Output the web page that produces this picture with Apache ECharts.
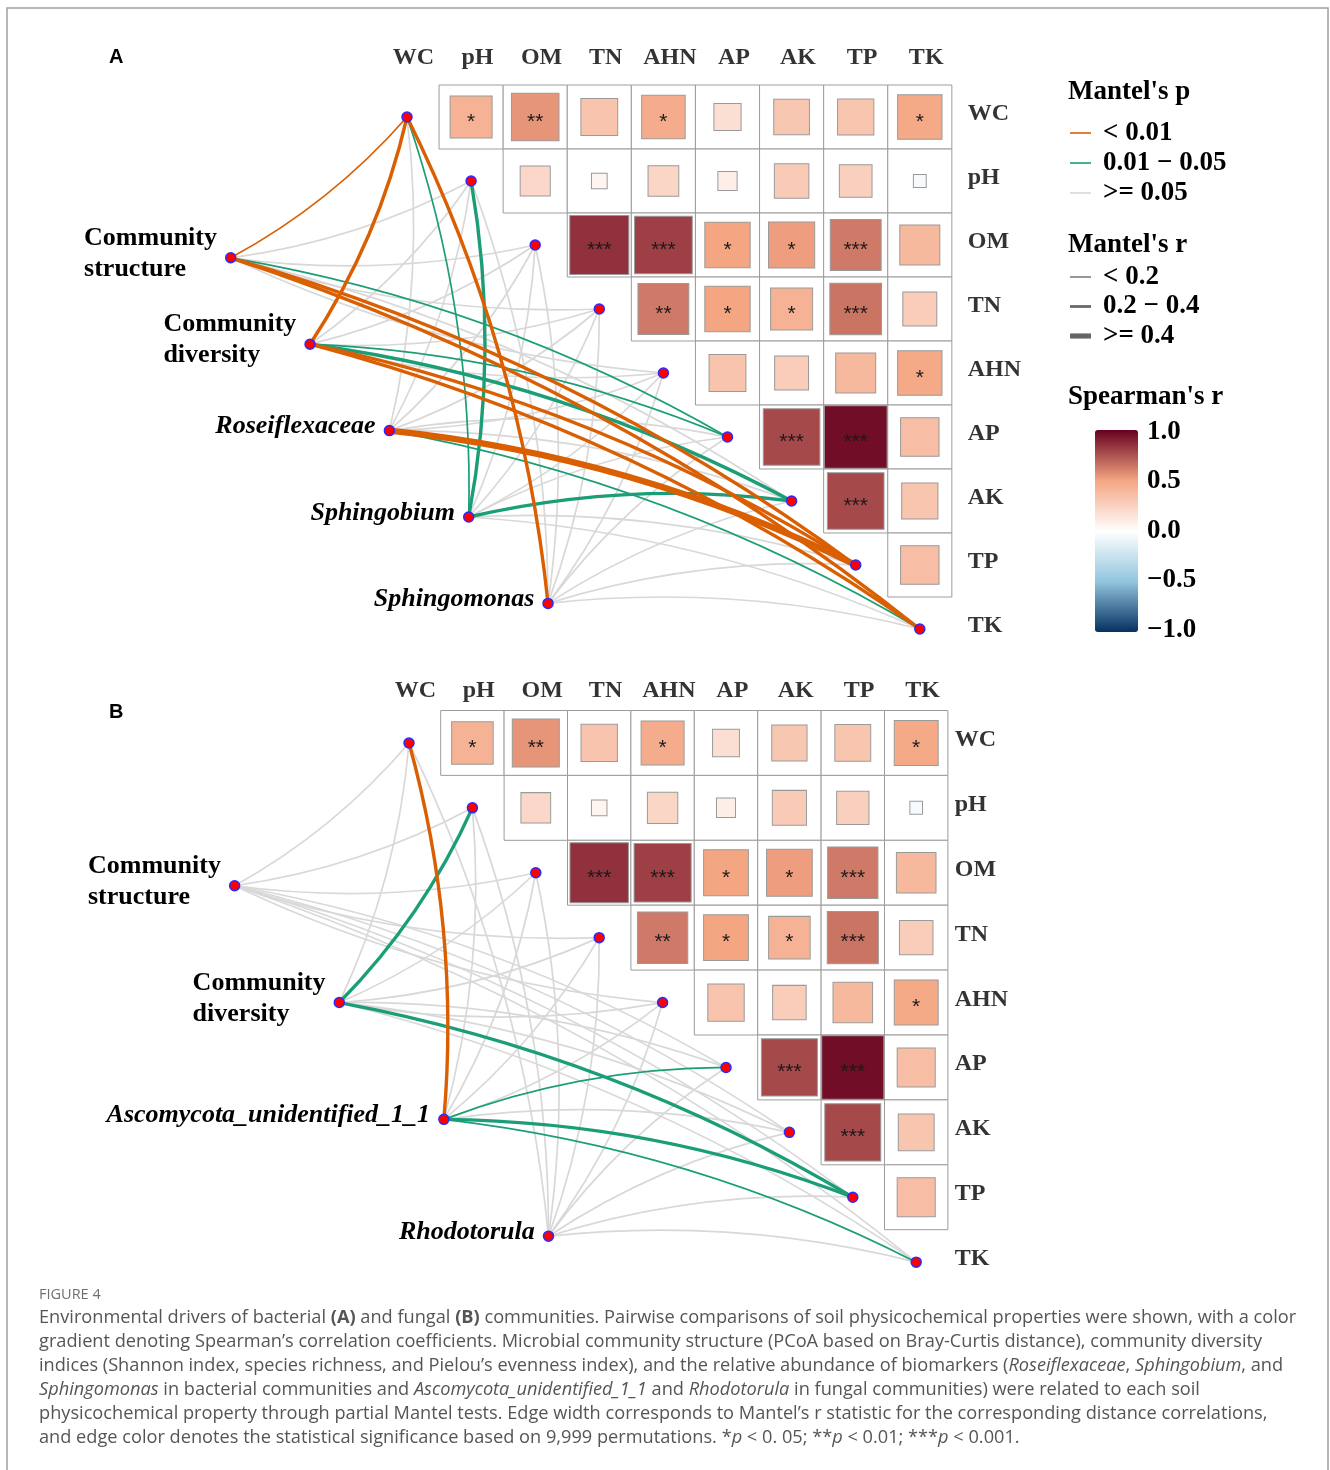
<!DOCTYPE html>
<html>
<head>
<meta charset="utf-8">
<title>Figure 4</title>
<script src="https://cdn.jsdelivr.net/npm/echarts@6/dist/echarts.min.js"></script>
<style>
html, body { margin: 0; padding: 0; background: #fff; }
#main { width: 1330px; height: 1470px; }
</style>
</head>
<body>
<div id="main"></div>
<script>
// soil properties: heatmap rows / columns and Mantel targets
var envNames = ['WC', 'pH', 'OM', 'TN', 'AHN', 'AP', 'AK', 'TP', 'TK'];

// Spearman's r, upper triangle: row i against envNames[i + 1 ..]
var spearmanR = [
  [0.43, 0.55, 0.33, 0.46, 0.18, 0.31, 0.32, 0.48],
  [0.22, 0.06, 0.23, 0.09, 0.29, 0.26, -0.04],
  [0.85, 0.81, 0.50, 0.52, 0.63, 0.39],
  [0.63, 0.50, 0.43, 0.65, 0.28],
  [0.33, 0.28, 0.39, 0.48],
  [0.78, 0.96, 0.36],
  [0.78, 0.32],
  [0.36]
];
var spearmanSig = [
  ['*', '**', '', '*', '', '', '', '*'],
  ['', '', '', '', '', '', ''],
  ['***', '***', '*', '*', '***', ''],
  ['**', '*', '*', '***', ''],
  ['', '', '', '*'],
  ['***', '***', ''],
  ['***', ''],
  ['']
];

// Mantel classes per target (WC..TK)
// p: 0 = < 0.01, 1 = 0.01 - 0.05, 2 = >= 0.05 ; r: 0 = < 0.2, 1 = 0.2 - 0.4, 2 = >= 0.4
var bactNames = ['Community structure', 'Community diversity', 'Roseiflexaceae', 'Sphingobium', 'Sphingomonas'];
var bactP = [
  [0, 2, 2, 2, 2, 1, 2, 0, 0],
  [0, 2, 2, 2, 2, 1, 1, 0, 0],
  [2, 2, 2, 2, 2, 2, 2, 0, 1],
  [1, 1, 2, 2, 2, 2, 1, 2, 2],
  [0, 2, 2, 2, 2, 2, 2, 2, 2]
];
var bactR = [
  [0, 0, 0, 0, 0, 0, 0, 1, 1],
  [1, 0, 0, 0, 0, 0, 1, 1, 1],
  [0, 0, 0, 0, 0, 0, 0, 2, 0],
  [0, 1, 0, 0, 0, 0, 1, 0, 0],
  [1, 0, 0, 0, 0, 0, 0, 0, 0]
];
var fungNames = ['Community structure', 'Community diversity', 'Ascomycota_unidentified_1_1', 'Rhodotorula'];
var fungP = [
  [2, 2, 2, 2, 2, 2, 2, 2, 2],
  [2, 1, 2, 2, 2, 2, 2, 1, 2],
  [0, 2, 2, 2, 2, 1, 2, 1, 1],
  [2, 2, 2, 2, 2, 2, 2, 2, 2]
];
var fungR = [
  [0, 0, 0, 0, 0, 0, 0, 0, 0],
  [0, 1, 0, 0, 0, 0, 0, 1, 0],
  [1, 0, 0, 0, 0, 0, 0, 1, 0],
  [0, 0, 0, 0, 0, 0, 0, 0, 0]
];

var pLabels = ['< 0.01', '0.01 \u2212 0.05', '>= 0.05'];
var rLabels = ['< 0.2', '0.2 \u2212 0.4', '>= 0.4'];
var colorTicks = [1.0, 0.5, 0.0, -0.5, -1.0];

// styles
var serif = '"Liberation Serif", "DejaVu Serif", serif';
var sans = '"Liberation Sans", Arial, sans-serif';
var pColors = ['#D95F02', '#1B9E77', '#D8D8D8'];
var rWidths = [1.7, 3.4, 6.4];
var curve = 0.09;
var nodeStyle = { color: '#FF0000', borderColor: '#2B2BFF', borderWidth: 1.5, opacity: 1 };

// layout of the two panels (pixels per data unit)
var panels = [
  { letter: 'A', names: bactNames, P: bactP, R: bactR, left: 214.7, top: 21, unitX: 64.1, unitY: 64, letterY: 57, colY: -0.93, rowX: 8.74 },
  { letter: 'B', names: fungNames, P: fungP, R: fungR, left: 218.8, top: 645.6, unitX: 63.4, unitY: 64.9, letterY: 712, colY: -0.8, rowX: 8.6 }
];
var xRange = [-3, 8.5], yRange = [-1.5, 8.5];
var spStart = [-2.75, 2.2], spEnd = [2.2, 7.6];

var myChart = echarts.init(document.getElementById('main'));

var grids = [], xAxes = [], yAxes = [], series = [], squareIdx = [], graphics = [];

function fmtTick(v) {
  return (v < 0 ? '\u2212' : '') + Math.abs(v).toFixed(1);
}

panels.forEach(function (pn, pi) {
  grids.push({
    left: pn.left, top: pn.top,
    width: (xRange[1] - xRange[0]) * pn.unitX,
    height: (yRange[1] - yRange[0]) * pn.unitY
  });
  xAxes.push({ gridIndex: pi, type: 'value', min: xRange[0], max: xRange[1], show: false });
  yAxes.push({ gridIndex: pi, type: 'value', min: yRange[0], max: yRange[1], inverse: true, show: false });

  var cells = [], squares = [];
  spearmanR.forEach(function (row, i) {
    row.forEach(function (r, n) {
      var col = i + 1 + n;
      cells.push([col, i]);
      squares.push({ value: [col, i, r], stars: spearmanSig[i][n] });
    });
  });

  // species / community nodes evenly spread on a line
  var nS = pn.names.length;
  var spPos = pn.names.map(function (n, s) {
    var t = s / (nS - 1);
    return [spStart[0] + t * (spEnd[0] - spStart[0]), spStart[1] + t * (spEnd[1] - spStart[1])];
  });

  var edges = [];
  pn.P.forEach(function (prow, s) {
    prow.forEach(function (p, k) {
      var a = spPos[s], b = [k, k];
      edges.push({
        p: p,
        coords: k <= 4 ? [b, a] : [a, b],
        lineStyle: { color: pColors[p], width: rWidths[pn.R[s][k]], curveness: curve, opacity: 1 }
      });
    });
  });
  edges.sort(function (u, v) { return v.p - u.p; });

  // cell frames
  series.push({
    type: 'custom', xAxisIndex: pi, yAxisIndex: pi, data: cells, silent: true, z: 1, clip: false,
    renderItem: function (params, api) {
      var c = api.coord([api.value(0), api.value(1)]);
      var sz = api.size([1, 1]);
      return {
        type: 'rect',
        shape: { x: c[0] - sz[0] / 2, y: c[1] - sz[1] / 2, width: sz[0], height: sz[1] },
        style: { fill: '#fff', stroke: '#9c9c9c', lineWidth: 1 }
      };
    }
  });
  squareIdx.push(series.length);
  series.push({
    type: 'scatter', xAxisIndex: pi, yAxisIndex: pi, data: squares, symbol: 'rect', z: 2, silent: true, clip: false,
    symbolSize: function (v) {
      var k = Math.sqrt(Math.abs(v[2]));
      return [k * pn.unitX, k * pn.unitY];
    },
    itemStyle: { borderColor: '#9a9a9a', borderWidth: 1, opacity: 1 },
    label: {
      show: true, position: 'inside', offset: [0, 5],
      formatter: function (p) { return p.data.stars; },
      fontFamily: sans, fontSize: 21, color: '#1a1a1a'
    }
  });
  series.push({
    type: 'lines', coordinateSystem: 'cartesian2d', xAxisIndex: pi, yAxisIndex: pi,
    data: edges, z: 3, silent: true, clip: false
  });
  series.push({
    type: 'scatter', xAxisIndex: pi, yAxisIndex: pi, z: 5, silent: true, clip: false,
    data: envNames.map(function (n, k) { return { name: n, value: [k, k] }; }),
    symbolSize: 10, itemStyle: nodeStyle
  });
  series.push({
    type: 'scatter', xAxisIndex: pi, yAxisIndex: pi, z: 5, silent: true, clip: false,
    data: spPos.map(function (c, s) { return { name: pn.names[s], value: c }; }),
    symbolSize: 10, itemStyle: nodeStyle,
    label: {
      show: true, position: 'left', distance: 8, offset: [0, -4],
      formatter: function (p) {
        if (p.name.indexOf('Community') === 0) {
          return p.name.split(' ').map(function (w) { return '{b|' + w + '}'; }).join('\n');
        }
        return '{i|' + p.name + '}';
      },
      rich: {
        b: { fontFamily: serif, fontWeight: 'bold', fontSize: 26, lineHeight: 31, color: '#000', align: 'left' },
        i: { fontFamily: serif, fontWeight: 'bold', fontStyle: 'italic', fontSize: 26, lineHeight: 31, color: '#000' }
      }
    }
  });
  // column and row labels
  series.push({
    type: 'scatter', xAxisIndex: pi, yAxisIndex: pi, z: 5, silent: true, clip: false,
    data: envNames.map(function (n, k) { return { name: n, value: [k + 0.1, pn.colY] }; }),
    symbolSize: 1, itemStyle: { color: 'rgba(0,0,0,0)' },
    label: { show: true, position: 'inside', formatter: '{b}', fontFamily: serif, fontWeight: 'bold', fontSize: 24, color: '#000' }
  });
  series.push({
    type: 'scatter', xAxisIndex: pi, yAxisIndex: pi, z: 5, silent: true, clip: false,
    data: envNames.map(function (n, k) { return { name: n, value: [pn.rowX, k - 0.05] }; }),
    symbolSize: 1, itemStyle: { color: 'rgba(0,0,0,0)' },
    label: { show: true, position: 'right', distance: 0, formatter: '{b}', fontFamily: serif, fontWeight: 'bold', fontSize: 24, color: '#000' }
  });

  graphics.push({
    type: 'text', x: 109, y: pn.letterY,
    style: { text: pn.letter, fontFamily: sans, fontWeight: 'bold', fontSize: 20, fill: '#000', verticalAlign: 'middle' }
  });
});

// frame
graphics.push({
  type: 'rect', z: -1,
  shape: { x: 7, y: 8, width: 1321, height: 1500 },
  style: { fill: 'none', stroke: '#a0a0a0', lineWidth: 1.5 }
});

// legend: Mantel's p, Mantel's r, Spearman's r
function legendTitle(txt, y) {
  graphics.push({
    type: 'text', x: 1068, y: y,
    style: { text: txt, fontFamily: serif, fontWeight: 'bold', fontSize: 27, fill: '#000', verticalAlign: 'middle' }
  });
}
function legendItem(txt, y, color, width) {
  graphics.push({
    type: 'line', shape: { x1: 1070, y1: y, x2: 1091, y2: y },
    style: { stroke: color, lineWidth: width }
  });
  graphics.push({
    type: 'text', x: 1103, y: y,
    style: { text: txt, fontFamily: serif, fontWeight: 'bold', fontSize: 27, fill: '#000', verticalAlign: 'middle' }
  });
}
legendTitle("Mantel's p", 92);
pLabels.forEach(function (t, i) { legendItem(t, 133 + 30 * i, pColors[i], 1.6); });
legendTitle("Mantel's r", 245);
rLabels.forEach(function (t, i) { legendItem(t, 277 + 29.5 * i, '#666', rWidths[i] * 0.8); });
legendTitle("Spearman's r", 397);
colorTicks.forEach(function (v) {
  graphics.push({
    type: 'text', x: 1147, y: 432 + (1 - v) / 2 * 198,
    style: { text: fmtTick(v), fontFamily: serif, fontWeight: 'bold', fontSize: 27, fill: '#000', verticalAlign: 'middle' }
  });
});

// caption
var capFont = '"Open Sans", "Noto Sans", sans-serif';
var capSize = 18.2;
var captionLines = [
  'Environmental drivers of bacterial {b|(A)} and fungal {b|(B)} communities. Pairwise comparisons of soil physicochemical properties were shown, with a color',
  'gradient denoting Spearman\u2019s correlation coefficients. Microbial community structure (PCoA based on Bray-Curtis distance), community diversity',
  'indices (Shannon index, species richness, and Pielou\u2019s evenness index), and the relative abundance of biomarkers ({i|Roseiflexaceae}, {i|Sphingobium}, and',
  '{i|Sphingomonas} in bacterial communities and {i|Ascomycota_unidentified_1_1} and {i|Rhodotorula} in fungal communities) were related to each soil',
  'physicochemical property through partial Mantel tests. Edge width corresponds to Mantel\u2019s r statistic for the corresponding distance correlations,',
  'and edge color denotes the statistical significance based on 9,999 permutations. *{i|p} < 0. 05; **{i|p} < 0.01; ***{i|p} < 0.001.'
];
graphics.push({
  type: 'text', x: 39, y: 1295,
  style: { text: 'FIGURE 4', fontFamily: capFont, fontSize: 14.5, fill: '#707070', verticalAlign: 'middle' }
});
graphics.push({
  type: 'text', x: 39, y: 1306,
  style: {
    text: captionLines.join('\n'),
    fontFamily: capFont, fontSize: capSize, lineHeight: 24, fill: '#555',
    rich: {
      b: { fontFamily: capFont, fontSize: capSize, fontWeight: 'bold', lineHeight: 24, fill: '#555' },
      i: { fontFamily: capFont, fontSize: capSize, fontStyle: 'italic', lineHeight: 24, fill: '#555' }
    }
  }
});

var option = {
  backgroundColor: '#fff',
  animation: false,
  grid: grids,
  xAxis: xAxes,
  yAxis: yAxes,
  visualMap: {
    type: 'continuous', min: -1, max: 1, dimension: 2, seriesIndex: squareIdx,
    inRange: { color: ['#053061', '#92C5DE', '#FFFFFF', '#F4A582', '#67001F'] },
    calculable: false, hoverLink: false, realtime: false,
    left: 1095, top: 430, itemWidth: 43, itemHeight: 202, padding: 0,
    text: ['', ''], textGap: 0
  },
  graphic: graphics,
  series: series
};

myChart.setOption(option);
</script>
</body>
</html>
